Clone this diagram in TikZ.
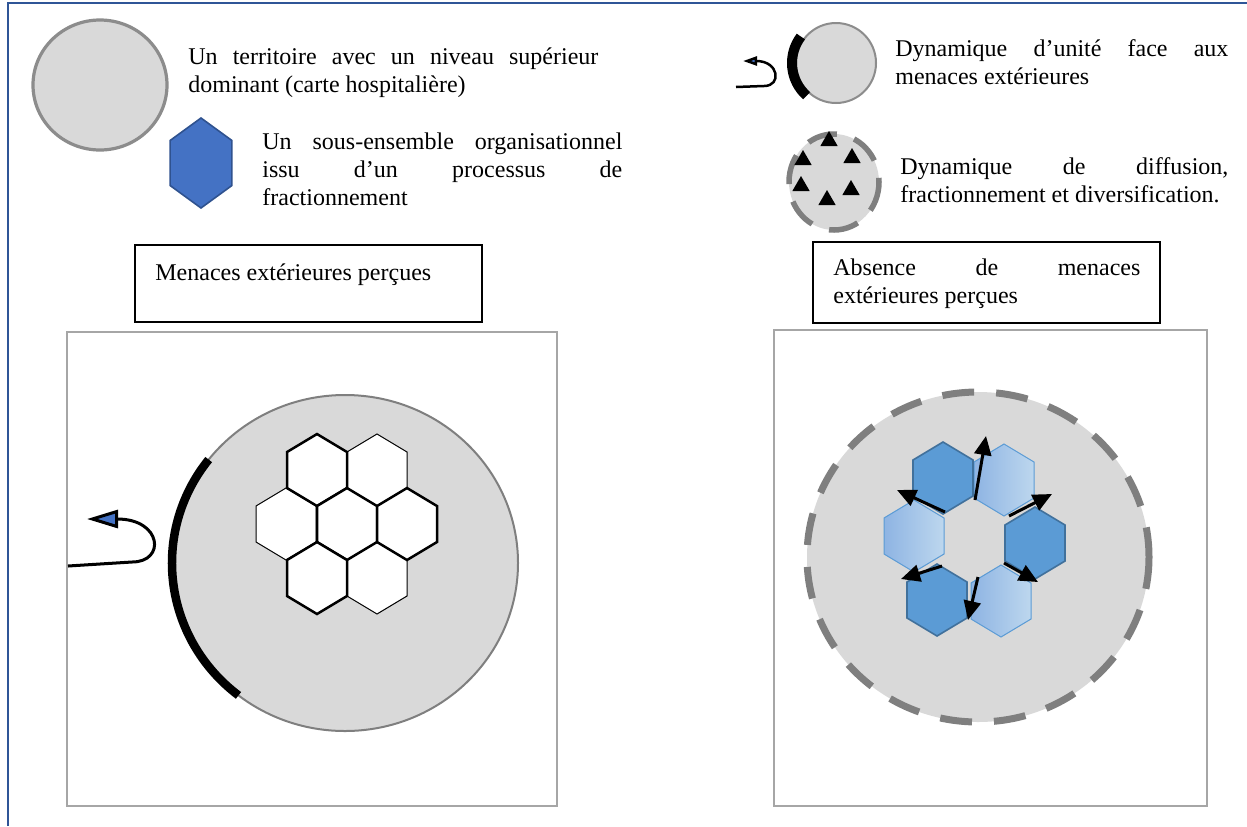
\documentclass[tikz,border=0pt]{standalone}
\usepackage{fontspec}
\setmainfont{Liberation Serif}
\usetikzlibrary{arrows.meta, shapes.geometric}

\definecolor{framebl}{HTML}{2F5597}
\definecolor{terrgray}{HTML}{D9D9D9}
\definecolor{edgegray}{HTML}{8C8C8C}
\definecolor{dashgray}{HTML}{7F7F7F}
\definecolor{panelgray}{HTML}{A6A6A6}
\definecolor{hexblue}{HTML}{4472C4}
\definecolor{hexedge}{HTML}{2F528F}
\definecolor{celldark}{HTML}{5B9BD5}
\definecolor{celldarkedge}{HTML}{41719C}
\definecolor{cellmid}{HTML}{8EB4E3}
\definecolor{celllight}{HTML}{BDD7EE}

\setlength{\parindent}{0pt}
\tolerance=10000 \hyphenpenalty=10000 \exhyphenpenalty=10000

\tikzset{
  legendtext/.style={anchor=north west, inner sep=0pt, text width=#1, align=justify,
    font=\fontsize{12}{14.2}\selectfont},
  hexa/.pic={\path[pic actions] (-30,-18) -- (-30,18) -- (0,36) -- (30,18) -- (30,-18) -- (0,-36) -- cycle;},
  whitecell/.style={draw=black, fill=white, line width=0.5pt},
  boldcell/.style={draw=black, fill=white, line width=1.25pt},
  darkcell/.style={draw=celldarkedge, fill=celldark, line width=0.8pt},
  lightcell/.style={draw=celldark, left color=cellmid, right color=celllight, line width=0.5pt},
  legtri/.style={regular polygon, regular polygon sides=3, fill=black, inner sep=0pt, minimum size=10pt},
  spread/.style={line width=1.5pt, -{Triangle[length=9.5pt,width=8.5pt]}},
}

\begin{document}
\begin{tikzpicture}[x=0.5pt, y=-0.5pt]
\useasboundingbox (0,0) rectangle (1247,826);
% page frame
\draw[framebl, line width=1pt] (8,826) -- (8,3) -- (1247,3);

% legend
\draw[fill=terrgray, draw=edgegray, line width=1.6pt] (100,85) ellipse [x radius=67, y radius=65];
\node[legendtext=205pt] (leg-terr) at (188,47) {Un territoire avec un niveau supérieur\linebreak dominant (carte hospitalière)};
\pic[draw=hexedge, fill=hexblue, line width=0.8pt, xscale=1.03, yscale=1.25] at (201,163) {hexa};
\node[legendtext=180pt] (leg-sous) at (262,132) {Un sous-ensemble organisationnel\linebreak issu d’un processus de\linebreak fractionnement};

\draw[fill=terrgray, draw=edgegray, line width=1pt] (836,63) circle [radius=40];
\draw[line width=5pt] (836,63) ++(132:44) arc [start angle=132, end angle=217, radius=44];
\coordinate (hookS-start) at (736,87);
\coordinate (hookS-tip) at (743,61);
\draw[line width=1.25pt, -{Triangle[length=7pt,width=4.5pt,fill=hexblue]}]
  (hookS-start) -- ++(28,-1) .. controls +(18,0) and +(36,0) .. (hookS-tip);
\node[legendtext=166.5pt] (leg-unite) at (895,39) {Dynamique d’unité face aux\linebreak menaces extérieures};

\draw[fill=terrgray, draw=dashgray, line width=2.75pt, dash pattern=on 15pt off 9pt] (834,182) ellipse [x radius=45, y radius=48];
\foreach \tx/\ty [count=\i] in {829/141, 803/160, 852/158, 801/186, 851/190, 827/200}
  \node[legtri] (tri-\i) at (\tx,\ty) {};
\node[legendtext=164pt] (leg-diff) at (900,157) {Dynamique de diffusion,\linebreak fractionnement et diversification.};

% titles
\draw[line width=0.6pt] (135,245) rectangle (482,322);
\node[legendtext=153.5pt] (title-men) at (155,263) {Menaces extérieures perçues};
\draw[line width=0.6pt] (813,242) rectangle (1160,323);
\node[legendtext=153.5pt] (title-abs) at (833,258) {Absence de menaces\linebreak extérieures perçues};

% left panel
\draw[panelgray, line width=1.25pt] (67,332) rectangle (557,806);
\draw[fill=terrgray, draw=dashgray, line width=1pt] (345,563) ellipse [x radius=173, y radius=168];
\draw[line width=4.25pt] (345,563) ++(128:173 and 168) arc [start angle=128, end angle=218, x radius=173, y radius=168];
\coordinate (hookL-start) at (68,566);
\coordinate (hookL-tip) at (87,519);
\draw[line width=1.5pt, -{Triangle[length=15.5pt,width=9pt,fill=hexblue]}]
  (hookL-start) -- ++(64,-4) .. controls +(34,0) and +(75,0) .. (hookL-tip);
\pic[whitecell] at (377,470) {hexa};
\pic[whitecell] at (286,524) {hexa};
\pic[whitecell] at (377,578) {hexa};
\pic[boldcell] at (317,470) {hexa};
\pic[boldcell] at (347,524) {hexa};
\pic[boldcell] at (407,524) {hexa};
\pic[boldcell] at (317,578) {hexa};

% right panel
\draw[panelgray, line width=1.25pt] (774,330) rectangle (1207,806);
\draw[fill=terrgray, draw=dashgray, line width=3.5pt, dash pattern=on 16pt off 11pt] (978,557) ellipse [x radius=171, y radius=165];
\pic[lightcell] at (1004,480) {hexa};
\pic[lightcell] at (1001,601) {hexa};
\pic[lightcell] at (914,536) {hexa};
\pic[darkcell] at (943,478) {hexa};
\pic[darkcell] at (1035,543) {hexa};
\pic[darkcell] at (937,600) {hexa};
\coordinate (s1) at (975,500);  \coordinate (e1) at (986,436);
\coordinate (s2) at (945,512);  \coordinate (e2) at (897,490);
\coordinate (s3) at (1009,516); \coordinate (e3) at (1052,494);
\coordinate (s4) at (1004,563); \coordinate (e4) at (1038,582);
\coordinate (s5) at (942,566);  \coordinate (e5) at (901,579);
\coordinate (s6) at (978,577);  \coordinate (e6) at (968,620);
\foreach \i in {1,...,6}
  \draw[spread] (s\i) -- (e\i);
\end{tikzpicture}
\end{document}
